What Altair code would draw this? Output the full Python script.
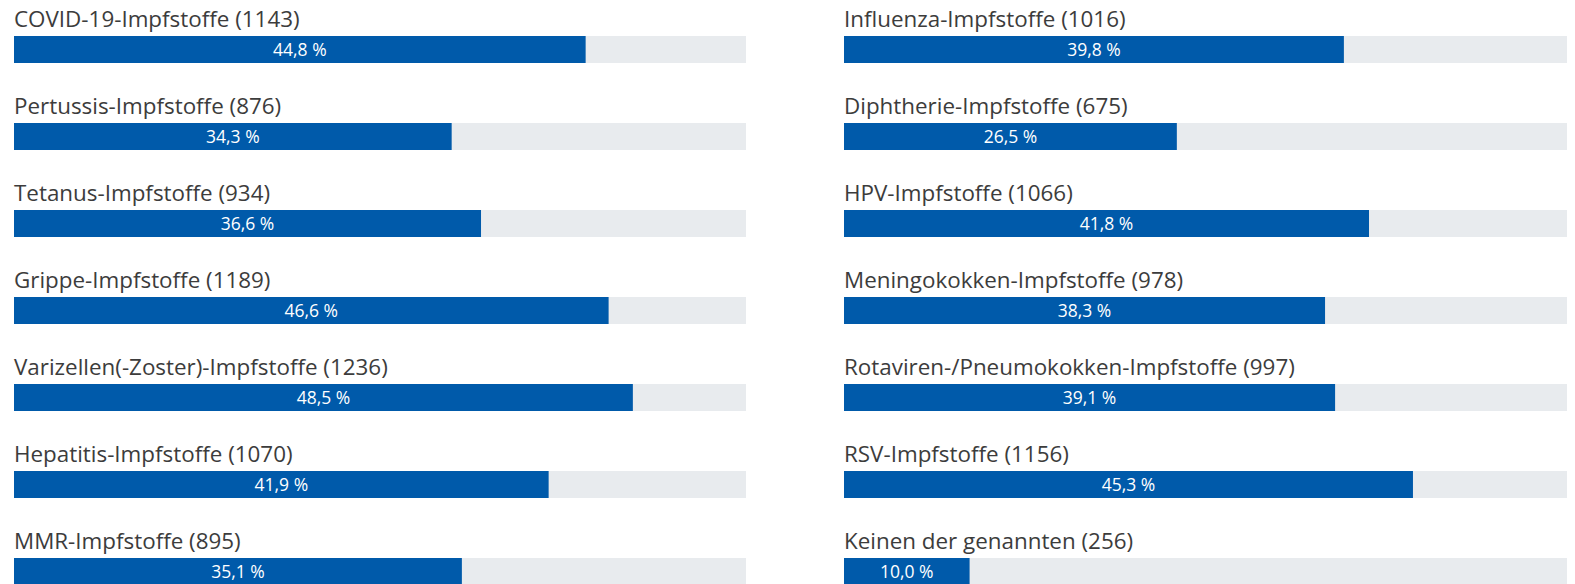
import altair as alt
import pandas as pd

left_names = ["COVID-19-Impfstoffe", "Pertussis-Impfstoffe", "Tetanus-Impfstoffe",
              "Grippe-Impfstoffe", "Varizellen(-Zoster)-Impfstoffe", "Hepatitis-Impfstoffe",
              "MMR-Impfstoffe"]
left_counts = [1143, 876, 934, 1189, 1236, 1070, 895]
left_pct = [44.8, 34.3, 36.6, 46.6, 48.5, 41.9, 35.1]

right_names = ["Influenza-Impfstoffe", "Diphtherie-Impfstoffe", "HPV-Impfstoffe",
               "Meningokokken-Impfstoffe", "Rotaviren-/Pneumokokken-Impfstoffe",
               "RSV-Impfstoffe", "Keinen der genannten"]
right_counts = [1016, 675, 1066, 978, 997, 1156, 256]
right_pct = [39.8, 26.5, 41.8, 38.3, 39.1, 45.3, 10.0]

BAR = "#005AAA"
TRACK = "#E8EBEE"
TEXT = "#3C3C3C"
FONT = "Open Sans"
H = 566
PITCH = 87.0
FIRST = 41.5
Y_DOMAIN = [-FIRST / PITCH, -FIRST / PITCH + H / PITCH]


def panel(names, counts, pct, width, xmax):
    df = pd.DataFrame({"row": list(range(len(names))), "name": names,
                       "count": counts, "pct": pct})
    base = alt.Chart(df).transform_calculate(
        zero="0",
        track_end=str(xmax),
        mid="datum.pct / 2",
        label="datum.name + ' (' + datum.count + ')'",
        pct_label="replace(format(datum.pct, '.1f'), '.', ',') + ' %'",
    )
    xs = alt.Scale(domain=[0, xmax], nice=False, zero=True, padding=0)
    ys = alt.Scale(domain=Y_DOMAIN, reverse=True, nice=False, zero=False, padding=0)
    y = alt.Y("row:Q", scale=ys, axis=None)
    track = base.mark_bar(color=TRACK, height=27, orient="horizontal").encode(
        x=alt.X("zero:Q", scale=xs, axis=None), x2="track_end:Q", y=y)
    bar = base.mark_bar(color=BAR, height=27, orient="horizontal").encode(
        x=alt.X("zero:Q", scale=xs, axis=None), x2="pct:Q", y=y)
    pct_text = base.mark_text(color="white", font=FONT, fontSize=17.5,
                              align="center", baseline="middle", dy=1).encode(
        x=alt.X("mid:Q", scale=xs, axis=None), y=y, text="pct_label:N")
    label = base.mark_text(color=TEXT, font=FONT, fontSize=22.4,
                           align="left", baseline="alphabetic", dy=-22.5).encode(
        x=alt.X("zero:Q", scale=xs, axis=None), y=y, text="label:N")
    return alt.layer(track, bar, pct_text, label).properties(
        width=width, height=H, view=alt.ViewConfig(stroke="transparent", strokeWidth=0))


left = panel(left_names, left_counts, left_pct, 732, 732 / 12.76)
right = panel(right_names, right_counts, right_pct, 723, 723 / 12.56)

chart = alt.hconcat(left, right, spacing=98).properties(
    padding={"left": 6, "top": 0, "right": 0, "bottom": 0}
).configure_view(stroke="transparent", strokeWidth=0).configure(background="white")

chart.save("out.html", embed_options={"renderer": "svg", "actions": False})
